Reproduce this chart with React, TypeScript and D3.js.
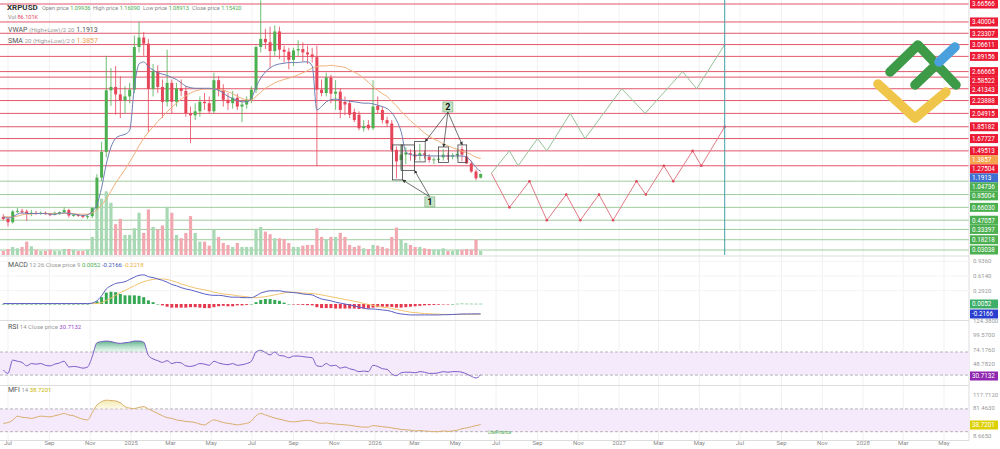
import React from 'react';
import * as d3 from 'd3';

// weekly XRPUSD candles, first week starts 2024-06-24
const firstWeek = '2024-06-24';
const opens = [0.52, 0.49, 0.44, 0.60, 0.61, 0.60, 0.57, 0.58, 0.57, 0.58, 0.56, 0.55, 0.58, 0.59, 0.62, 0.54, 0.55, 0.54, 0.52, 0.53,
  0.65, 1.10, 1.48, 2.39, 2.44, 2.33, 2.24, 2.30, 2.40, 3.03, 3.17, 3.08, 2.41, 2.67, 2.44, 2.22, 2.50, 2.22, 2.42, 2.38,
  2.05, 2.02, 2.08, 2.22, 2.20, 2.08, 2.54, 2.39, 2.25, 2.20, 2.28, 2.15, 2.18, 2.25, 2.40, 3.03, 3.15, 3.10, 2.97, 3.26,
  2.99, 2.96, 2.84, 2.98, 3.00, 2.95, 2.92, 2.88, 2.40, 2.35, 2.58, 2.34, 2.37, 2.22, 2.20, 2.07, 2.03, 1.83, 1.88, 1.83,
  2.16, 2.10, 1.95, 1.90, 1.51, 1.36, 1.44, 1.46, 1.44, 1.42, 1.46, 1.41, 1.36, 1.37, 1.40, 1.43, 1.41, 1.43, 1.52, 1.41,
  1.31, 1.19, 1.09936];
const highs = [0.56, 0.52, 0.62, 0.65, 0.64, 0.63, 0.62, 0.61, 0.60, 0.60, 0.58, 0.60, 0.60, 0.66, 0.64, 0.56, 0.56, 0.55, 0.55, 0.66,
  1.15, 1.63, 2.90, 2.72, 2.75, 2.60, 2.45, 2.50, 3.20, 3.40, 3.25, 3.15, 2.78, 2.76, 2.55, 2.99, 2.55, 2.50, 2.55, 2.45,
  2.15, 2.20, 2.30, 2.35, 2.30, 2.65, 2.60, 2.48, 2.35, 2.38, 2.34, 2.25, 2.30, 2.45, 3.05, 3.72, 3.30, 3.33, 3.35, 3.33,
  3.05, 3.02, 3.02, 3.13, 3.10, 3.05, 3.02, 3.05, 2.55, 2.65, 2.62, 2.54, 2.42, 2.30, 2.25, 2.12, 2.08, 1.95, 1.95, 2.54,
  2.30, 2.15, 2.00, 1.95, 1.56, 1.58, 1.55, 1.52, 1.50, 1.60, 1.50, 1.45, 1.40, 1.42, 1.52, 1.47, 1.46, 1.50, 1.56, 1.45,
  1.35, 1.22, 1.1609];
const lows = [0.47, 0.38, 0.42, 0.57, 0.56, 0.46, 0.53, 0.55, 0.55, 0.55, 0.53, 0.54, 0.55, 0.58, 0.51, 0.52, 0.52, 0.50, 0.49, 0.50,
  0.62, 1.05, 1.40, 2.16, 2.03, 1.98, 2.05, 2.20, 2.35, 2.95, 2.90, 1.77, 2.30, 2.35, 1.98, 2.15, 2.05, 2.15, 2.30, 2.00,
  1.61, 1.95, 2.00, 2.10, 2.05, 2.05, 2.30, 2.15, 2.10, 2.12, 2.10, 1.92, 2.12, 2.20, 2.35, 2.95, 3.00, 2.72, 2.90, 2.85,
  2.80, 2.70, 2.75, 2.90, 2.82, 2.78, 2.80, 1.27, 2.30, 2.30, 2.20, 2.10, 1.98, 2.02, 1.98, 1.92, 1.80, 1.78, 1.80, 1.80,
  2.05, 1.90, 1.85, 1.48, 1.09, 1.22, 1.30, 1.35, 1.36, 1.35, 1.38, 1.32, 1.30, 1.33, 1.35, 1.36, 1.37, 1.38, 1.34, 1.30,
  1.17, 1.06, 1.08913];
const closes = [0.49, 0.44, 0.60, 0.61, 0.60, 0.57, 0.58, 0.57, 0.58, 0.56, 0.55, 0.58, 0.59, 0.62, 0.54, 0.55, 0.54, 0.52, 0.53, 0.65,
  1.10, 1.48, 2.39, 2.44, 2.33, 2.24, 2.30, 2.40, 3.03, 3.17, 3.08, 2.41, 2.67, 2.44, 2.22, 2.50, 2.22, 2.42, 2.38, 2.05,
  2.02, 2.08, 2.22, 2.20, 2.08, 2.54, 2.39, 2.25, 2.20, 2.28, 2.15, 2.18, 2.25, 2.40, 3.03, 3.15, 3.10, 2.97, 3.26, 2.99,
  2.96, 2.84, 2.98, 3.00, 2.95, 2.92, 2.88, 2.40, 2.35, 2.58, 2.34, 2.37, 2.10, 2.18, 2.03, 1.95, 1.83, 1.86, 1.83, 2.15,
  2.10, 1.95, 1.90, 1.51, 1.34, 1.44, 1.47, 1.45, 1.41, 1.46, 1.44, 1.36, 1.37, 1.38, 1.44, 1.41, 1.43, 1.45, 1.44, 1.31,
  1.19, 1.09, 1.1542];
const volumes = [6, 9, 12, 10, 12, 20, 13, 8, 6, 6, 8, 6, 6, 9, 9, 8, 6, 6, 8, 27,
  82, 84, 95, 78, 46, 54, 30, 30, 40, 63, 33, 68, 42, 38, 44, 72, 63, 30, 25, 33,
  58, 33, 20, 20, 14, 38, 27, 18, 15, 12, 18, 12, 12, 12, 39, 42, 35, 31, 25, 25,
  24, 18, 12, 12, 14, 15, 15, 40, 27, 23, 27, 27, 33, 27, 15, 12, 14, 10, 9, 15,
  14, 12, 10, 27, 41, 23, 18, 15, 12, 12, 10, 9, 8, 8, 10, 6, 6, 8, 8, 9,
  8, 23, 6];
const vwap = [0.52, 0.50, 0.52, 0.56, 0.58, 0.57, 0.57, 0.57, 0.57, 0.57, 0.56, 0.56, 0.57, 0.58, 0.57, 0.56, 0.55, 0.54, 0.55, 0.60,
  0.70, 0.95, 1.30, 1.55, 1.68, 1.72, 1.74, 1.80, 2.44, 2.78, 2.81, 2.74, 2.69, 2.65, 2.63, 2.61, 2.58, 2.55, 2.50, 2.45,
  2.43, 2.42, 2.42, 2.42, 2.42, 2.41, 2.39, 2.35, 2.30, 2.27, 2.24, 2.22, 2.22, 2.27, 2.44, 2.57, 2.66, 2.72, 2.76, 2.78,
  2.79, 2.80, 2.80, 2.80, 2.81, 2.81, 2.75, 2.10, 2.15, 2.22, 2.25, 2.26, 2.25, 2.24, 2.23, 2.22, 2.21, 2.20, 2.20, 2.19,
  2.17, 2.15, 2.12, 2.06, 1.95, 1.78, 1.48, 1.44, 1.43, 1.43, 1.43, 1.42, 1.42, 1.42, 1.42, 1.42, 1.42, 1.42, 1.42, 1.40,
  1.34, 1.25, 1.1913];
const sma = [0.53, 0.52, 0.52, 0.53, 0.55, 0.56, 0.56, 0.57, 0.57, 0.57, 0.57, 0.57, 0.57, 0.57, 0.57, 0.57, 0.56, 0.56, 0.56, 0.58,
  0.62, 0.70, 0.78, 0.90, 1.02, 1.12, 1.22, 1.33, 1.45, 1.57, 1.68, 1.77, 1.85, 1.93, 2.00, 2.07, 2.14, 2.20, 2.26, 2.31,
  2.35, 2.38, 2.40, 2.41, 2.41, 2.41, 2.40, 2.39, 2.37, 2.34, 2.30, 2.27, 2.25, 2.25, 2.30, 2.36, 2.42, 2.46, 2.50, 2.53,
  2.55, 2.57, 2.59, 2.62, 2.65, 2.68, 2.72, 2.74, 2.75, 2.75, 2.76, 2.75, 2.74, 2.73, 2.69, 2.66, 2.62, 2.57, 2.51, 2.44,
  2.39, 2.34, 2.30, 2.23, 2.16, 2.08, 2.01, 1.94, 1.88, 1.82, 1.76, 1.71, 1.67, 1.64, 1.60, 1.57, 1.54, 1.52, 1.49, 1.47,
  1.44, 1.40, 1.3857];
const macd = [0.01, 0.01, 0.01, 0.01, 0.01, 0.01, 0.01, 0.01, 0.01, 0.01, 0.01, 0.01, 0.01, 0.01, 0.01, 0.01, 0.01, 0.01, 0.01, 0.02,
  0.07, 0.18, 0.33, 0.40, 0.45, 0.47, 0.49, 0.54, 0.59, 0.63, 0.64, 0.60, 0.58, 0.55, 0.52, 0.48, 0.43, 0.40, 0.36, 0.33,
  0.31, 0.28, 0.25, 0.22, 0.20, 0.19, 0.19, 0.18, 0.16, 0.15, 0.15, 0.14, 0.14, 0.14, 0.18, 0.24, 0.27, 0.29, 0.29, 0.29,
  0.27, 0.26, 0.25, 0.24, 0.22, 0.21, 0.20, 0.15, 0.11, 0.09, 0.07, 0.04, 0.02, 0.00, -0.02, -0.04, -0.07, -0.09, -0.11, -0.11,
  -0.12, -0.13, -0.14, -0.165, -0.20, -0.22, -0.23, -0.24, -0.24, -0.24, -0.24, -0.24, -0.24, -0.24, -0.235, -0.235, -0.23, -0.225, -0.22, -0.22,
  -0.219, -0.218, -0.2166];
const signal = [0.01, 0.01, 0.01, 0.01, 0.01, 0.01, 0.01, 0.01, 0.01, 0.01, 0.01, 0.01, 0.01, 0.01, 0.01, 0.01, 0.01, 0.01, 0.01, 0.01,
  0.01, 0.03, 0.08, 0.13, 0.19, 0.25, 0.30, 0.35, 0.40, 0.45, 0.49, 0.52, 0.54, 0.55, 0.55, 0.54, 0.51, 0.48, 0.44, 0.41,
  0.38, 0.35, 0.33, 0.31, 0.29, 0.26, 0.24, 0.22, 0.21, 0.20, 0.18, 0.17, 0.16, 0.14, 0.14, 0.15, 0.16, 0.18, 0.20, 0.22,
  0.24, 0.26, 0.26, 0.255, 0.24, 0.235, 0.23, 0.22, 0.20, 0.18, 0.16, 0.14, 0.12, 0.10, 0.08, 0.06, 0.04, 0.01, -0.01, -0.03,
  -0.05, -0.07, -0.08, -0.10, -0.12, -0.14, -0.16, -0.18, -0.19, -0.20, -0.21, -0.215, -0.22, -0.225, -0.228, -0.23, -0.23, -0.23, -0.228, -0.226,
  -0.225, -0.223, -0.2218];
const rsi = [39, 33, 56, 54, 52, 46, 50, 49, 50, 47, 46, 49, 51, 54, 44, 45, 44, 42, 44, 62,
  86, 88, 89, 88, 86, 85, 86, 87, 89, 89, 87, 64, 58, 55, 52, 55, 50, 52, 51, 46,
  45, 47, 50, 49, 47, 54, 51, 49, 48, 50, 47, 48, 50, 54, 70, 73, 69, 65, 70, 64,
  63, 60, 63, 63, 62, 61, 60, 46, 45, 50, 46, 47, 42, 44, 41, 39, 36, 37, 36, 47,
  45, 41, 40, 32, 29, 34, 35, 35, 34, 36, 35, 33, 33, 34, 36, 35, 36, 36, 35, 32,
  28, 25, 30.7132];
const mfi = [42, 44, 50, 61, 58, 57, 55, 58, 61, 60, 59, 62, 65, 68, 64, 62, 57, 53, 51, 70,
  90, 99, 103, 102, 101, 96, 86, 82, 81, 84, 86, 80, 74, 68, 62, 57, 55, 51, 49, 47,
  46, 44, 40, 38, 45, 51, 48, 44, 42, 40, 38, 40, 42, 48, 62, 68, 64, 60, 56, 53,
  50, 47, 46, 47, 49, 50, 48, 44, 42, 43, 41, 40, 39, 38, 37, 35, 33, 32, 32, 36,
  35, 33, 32, 30, 28, 26, 25, 24, 22, 23, 22, 21, 20, 20, 22, 21, 22, 24, 28, 30,
  33, 36, 38.7201];

// support / resistance levels drawn across the chart
const levels = [3.66566, 3.40004, 3.23307, 3.06611, 2.89156, 2.66665, 2.58522, 2.41343, 2.23888, 2.04915, 1.85182,
  1.67727, 1.49513, 1.27504, 1.04736, 0.85004, 0.6603, 0.47057, 0.33397, 0.18218, 0.03038];

// forecast scenarios
const bullDates = ['2026-06-24', '2026-07-21', '2026-08-03', '2026-09-01', '2026-09-15', '2026-10-20', '2026-11-11',
  '2027-01-05', '2027-02-09', '2027-04-06', '2027-04-27', '2027-06-08'];
const bullPrices = [1.165, 1.49513, 1.27504, 1.67727, 1.49513, 2.04915, 1.67727, 2.41343, 2.04915, 2.66665, 2.41343, 3.06611];
const bearDates = ['2026-06-24', '2026-07-21', '2026-08-20', '2026-09-15', '2026-10-14', '2026-11-04', '2026-12-02',
  '2026-12-23', '2027-01-27', '2027-02-10', '2027-03-09', '2027-03-23', '2027-04-21', '2027-05-04', '2027-06-08'];
const bearPrices = [1.165, 0.6603, 1.04736, 0.47057, 0.85004, 0.47057, 0.85004, 0.47057, 1.04736, 0.85004, 1.27504,
  1.04736, 1.49513, 1.27504, 1.85182];
const forecastEnd = '2027-06-08';

// pattern boxes: [start, end, high, low]
const patternBoxes = [
  ['2026-01-27', '2026-02-11', 1.583, 1.066],
  ['2026-02-09', '2026-03-01', 1.583, 1.207],
  ['2026-03-01', '2026-03-17', 1.632, 1.332],
  ['2026-04-06', '2026-04-21', 1.553, 1.325],
  ['2026-05-05', '2026-05-18', 1.583, 1.325],
];
const patternLabels = [
  { text: '1', date: '2026-03-24', price: 0.741, boxes: [0, 1], side: 'bottom' },
  { text: '2', date: '2026-04-20', price: 2.144, boxes: [2, 3, 4], side: 'top' },
];

const macdTicks = [0.936, 0.614, 0.292];
const rsiTicks = [124.38, 99.57, 74.176, 48.782];
const mfiTicks = [117.712, 81.463, 8.665];

const FONT = 'Roboto, "Noto Sans", sans-serif';
const RIGHT = 969;
const GREEN = '#4caf50';
const RED = '#e6455a';

const parse = d3.utcParse('%Y-%m-%d');

export default function App() {
  const start = parse(firstWeek) as Date;
  const dates = opens.map((_, i) => d3.utcDay.offset(start, 7 * i));

  const x = d3.scaleUtc().domain([parse('2024-07-01') as Date, parse('2028-05-01') as Date]).range([8, 944]);
  const y = d3.scaleLinear().domain([0.03038, 3.66566]).range([250, 4]);
  const yVol = d3.scaleLinear().domain([0, 100]).range([255, 188]);
  const yMacd = d3.scaleLinear().domain([0, 0.936]).range([304, 261.4]);
  const yRsi = d3.scaleLinear().domain([30, 70]).range([375.1, 352]);
  const yMfi = d3.scaleLinear().domain([20, 80]).range([431.7, 408.9]);

  const ticks = x.ticks(d3.utcMonth.every(2) as d3.TimeInterval);
  const fmtTick = (d: Date) => (d.getUTCMonth() === 0 ? d3.utcFormat('%Y')(d) : d3.utcFormat('%b')(d));

  const lineOf = (vals: number[], sy: (v: number) => number) =>
    d3.line<number>().x((_, i) => x(dates[i])).y((v) => sy(v)).curve(d3.curveMonotoneX)(vals) || '';

  // right-hand price labels, pushed apart so they do not overlap
  const priceLabels = [
    ...levels.map((v) => ({ v, text: v.toFixed(5), fill: v > 1.2 ? '#ec1a35' : '#4caf50' })),
    { v: sma[sma.length - 1], text: '1.3857', fill: '#f5a34f' },
    { v: vwap[vwap.length - 1], text: '1.1913', fill: '#3f6fd1' },
  ].map((d) => ({ ...d, y: y(d.v) })).sort((a, b) => a.y - b.y);
  for (let i = 1; i < priceLabels.length; i++) {
    if (priceLabels[i].y < priceLabels[i - 1].y + 9) priceLabels[i].y = priceLabels[i - 1].y + 9;
  }

  const bull = bullDates.map((d, i) => [x(parse(d) as Date), y(bullPrices[i])] as [number, number]);
  const bear = bearDates.map((d, i) => [x(parse(d) as Date), y(bearPrices[i])] as [number, number]);
  const boxes = patternBoxes.map(([a, b, hi, lo]) => ({
    x0: x(parse(a as string) as Date), x1: x(parse(b as string) as Date), y0: y(hi as number), y1: y(lo as number),
  }));

  const rsiOver = d3.area<number>().x((_, i) => x(dates[i])).y0(yRsi(70)).y1((v) => yRsi(Math.max(v, 70))).curve(d3.curveMonotoneX)(rsi) || '';
  const mfiOver = d3.area<number>().x((_, i) => x(dates[i])).y0(yMfi(80)).y1((v) => yMfi(Math.max(v, 80))).curve(d3.curveMonotoneX)(mfi) || '';

  const axisLabel = (v: number, sy: (n: number) => number, key: string) => (
    <text key={key} x={973} y={sy(v) + 2} fontSize={6} fill="#999">{v.toFixed(4)}</text>
  );
  const tag = (yy: number, text: string, fill: string, color = '#fff', key?: string) => (
    <g key={key || text}>
      <rect x={970} y={yy - 4.5} width={28} height={9} fill={fill} />
      <text x={972} y={yy + 2.3} fontSize={6.3} fill={color}>{text}</text>
    </g>
  );

  return (
    <svg width={1000} height={449} style={{ position: 'absolute', left: 0, top: 0, fontFamily: FONT }}>
      <defs>
        <marker id="arr" viewBox="0 0 6 6" refX="5.5" refY="3" markerWidth="5" markerHeight="5" orient="auto">
          <path d="M0,0 L6,3 L0,6 z" fill="#333" />
        </marker>
        <linearGradient id="rsiG" x1="0" x2="0" y1="0" y2="1">
          <stop offset="0" stopColor="#2e9d6a" stopOpacity="0.8" />
          <stop offset="1" stopColor="#b9e6cf" stopOpacity="0.3" />
        </linearGradient>
        <linearGradient id="mfiG" x1="0" x2="0" y1="0" y2="1">
          <stop offset="0" stopColor="#f2e6a0" stopOpacity="0.9" />
          <stop offset="1" stopColor="#f7f0c8" stopOpacity="0.4" />
        </linearGradient>
      </defs>
      <rect width={1000} height={449} fill="#fff" />

      {/* vertical grid */}
      {ticks.map((t) => (
        <line key={'g' + t.getTime()} x1={x(t)} x2={x(t)} y1={0} y2={440} stroke="#f1f1f1" />
      ))}

      {/* levels */}
      {levels.map((v) => (
        <line key={'l' + v} x1={0} x2={RIGHT} y1={y(v)} y2={y(v)} stroke={v > 1.2 ? '#e2576c' : '#9fcd9f'} strokeWidth={1} />
      ))}

      {/* volume */}
      {volumes.map((v, i) => (
        <rect key={'v' + i} x={x(dates[i]) - 1.6} y={yVol(v)} width={3.2} height={yVol(0) - yVol(v)}
          fill={closes[i] >= opens[i] ? '#a8d8b4' : '#f2a8b1'} />
      ))}

      {/* candles */}
      {opens.map((o, i) => {
        const c = closes[i];
        const col = c >= o ? GREEN : RED;
        const cx = x(dates[i]);
        return (
          <g key={'c' + i}>
            <line x1={cx} x2={cx} y1={y(highs[i])} y2={y(lows[i])} stroke={col} strokeWidth={0.8} />
            <rect x={cx - 1.5} y={y(Math.max(o, c))} width={3} height={Math.max(1, Math.abs(y(o) - y(c)))} fill={col} />
          </g>
        );
      })}

      <path d={lineOf(sma, y)} fill="none" stroke="#f0b07c" strokeWidth={1} />
      <path d={lineOf(vwap, y)} fill="none" stroke="#6f7fb2" strokeWidth={1} />

      {/* forecasts */}
      <path d={d3.line()(bull) || ''} fill="none" stroke="#98c29a" strokeWidth={1} />
      <path d={d3.line()(bear) || ''} fill="none" stroke="#e07a86" strokeWidth={1} />
      {bear.slice(1).map(([px, py], i) => <circle key={'bd' + i} cx={px} cy={py} r={1.3} fill="#e0455a" />)}
      <line x1={x(parse(forecastEnd) as Date)} x2={x(parse(forecastEnd) as Date)} y1={0} y2={255} stroke="#3f9fa6" strokeWidth={1} />

      {/* pattern boxes and labels */}
      {boxes.map((b, i) => (
        <rect key={'pb' + i} x={b.x0} y={b.y0} width={b.x1 - b.x0} height={b.y1 - b.y0} fill="none" stroke="#444" strokeWidth={0.8} />
      ))}
      {patternLabels.map((p) => {
        const lx = x(parse(p.date) as Date);
        const ly = y(p.price);
        return (
          <g key={'pl' + p.text}>
            {p.boxes.map((bi) => {
              const b = boxes[bi];
              const tx = p.side === 'top' ? (bi === 2 ? b.x1 : (b.x0 + b.x1) / 2) : b.x1;
              const ty = p.side === 'top' ? b.y0 : b.y1;
              const sy = p.side === 'top' ? ly + 5 : ly - 5;
              return <line key={bi} x1={lx} y1={sy} x2={tx} y2={ty} stroke="#333" strokeWidth={0.7} markerEnd="url(#arr)" />;
            })}
            <rect x={lx - 5} y={ly - 5} width={10} height={10} fill="#c5e3c5" stroke="#7aa57a" strokeWidth={0.6} />
            <text x={lx} y={ly + 3.3} fontSize={9} fontWeight="bold" textAnchor="middle" fill="#111">{p.text}</text>
          </g>
        );
      })}

      {/* logo */}
      <g strokeLinecap="round" strokeLinejoin="round" fill="none" strokeWidth={9.5}>
        <path d="M878,84 L915,118 L946,92" stroke="#f0c64a" />
        <path d="M890,72 L918,45 L956,85" stroke="#3d9a47" />
        <path d="M915,85 L938,63" stroke="#3d9a47" />
        <path d="M939,62 L955,47" stroke="#4aa0dd" />
      </g>

      {/* legend */}
      <g fontSize={5.6} fill="#888">
        <text x={7} y={10} fontSize={8} fontWeight="bold" fill="#333">XRPUSD</text>
        <text x={42} y={9.5}>Open price <tspan fill="#4caf50">1.09936</tspan></text>
        <text x={93} y={9.5}>High price <tspan fill="#4caf50">1.16090</tspan></text>
        <text x={143} y={9.5}>Low price <tspan fill="#4caf50">1.08913</tspan></text>
        <text x={192} y={9.5}>Close price <tspan fill="#4caf50">1.15420</tspan></text>
        <text x={8} y={18.5}>Vol <tspan fill="#e6455a">86.101K</tspan></text>
        <text x={8} y={31.5} fontSize={7}><tspan fill="#555">VWAP</tspan> <tspan fontSize={6} fill="#999">(High+Low)/2 20</tspan> <tspan fill="#555">1.1913</tspan></text>
        <text x={8} y={43} fontSize={7}><tspan fill="#555">SMA</tspan> <tspan fontSize={6} fill="#999">20 (High+Low)/2 0</tspan> <tspan fill="#f0a050">1.3857</tspan></text>
      </g>

      {/* price labels */}
      {priceLabels.map((d) => tag(d.y, d.text, d.fill, '#fff', 'p' + d.text))}

      {/* panel separators */}
      {[256, 320.5, 385.5, 440.5].map((v) => <line key={'s' + v} x1={0} x2={RIGHT} y1={v} y2={v} stroke="#ddd" />)}
      <line x1={RIGHT} x2={RIGHT} y1={0} y2={440.5} stroke="#ddd" />

      {/* MACD */}
      {macdTicks.map((v) => <line key={'mg' + v} x1={0} x2={RIGHT} y1={yMacd(v)} y2={yMacd(v)} stroke="#f3f3f3" />)}
      {macd.map((m, i) => {
        const h = m - signal[i];
        return <rect key={'h' + i} x={x(dates[i]) - 1.5} y={Math.min(yMacd(0), yMacd(h))} width={3}
          height={Math.max(0.5, Math.abs(yMacd(h) - yMacd(0)))} fill={h >= 0 ? '#34a853' : '#e53950'} />;
      })}
      <path d={lineOf(signal, yMacd)} fill="none" stroke="#f3c46d" strokeWidth={1} />
      <path d={lineOf(macd, yMacd)} fill="none" stroke="#5a5fc4" strokeWidth={1} />
      <text x={8} y={267} fontSize={6} fill="#999"><tspan fontSize={7} fill="#555">MACD</tspan> 12 26 Close price 9 <tspan fill="#4caf50">0.0052</tspan> <tspan fill="#3f51b5">-0.2166</tspan> <tspan fill="#f0b040">-0.2218</tspan></text>
      {macdTicks.map((v) => axisLabel(v, yMacd, 'ma' + v))}
      {tag(304, '0.0052', '#3dae6a')}
      {tag(314, '-0.2166', '#2a3fd0')}

      {/* RSI */}
      <rect x={0} y={yRsi(70)} width={RIGHT} height={yRsi(30) - yRsi(70)} fill="#f5eafc" />
      {[70, 30].map((v) => <line key={'rd' + v} x1={0} x2={RIGHT} y1={yRsi(v)} y2={yRsi(v)} stroke="#999" strokeDasharray="3,2" strokeWidth={0.7} />)}
      <path d={rsiOver} fill="url(#rsiG)" />
      <path d={lineOf(rsi, yRsi)} fill="none" stroke="#7d5bc6" strokeWidth={1} />
      <text x={8} y={329} fontSize={6} fill="#999"><tspan fontSize={7} fill="#555">RSI</tspan> 14 Close price <tspan fill="#9c4dcc">30.7132</tspan></text>
      {rsiTicks.map((v) => axisLabel(v, yRsi, 'ra' + v))}
      {tag(376, '30.7132', '#9027b0')}

      {/* MFI */}
      <rect x={0} y={yMfi(80)} width={RIGHT} height={yMfi(20) - yMfi(80)} fill="#f5eafc" />
      {[80, 20].map((v) => <line key={'md' + v} x1={0} x2={RIGHT} y1={yMfi(v)} y2={yMfi(v)} stroke="#999" strokeDasharray="3,2" strokeWidth={0.7} />)}
      <path d={mfiOver} fill="url(#mfiG)" />
      <path d={lineOf(mfi, yMfi)} fill="none" stroke="#d9ad6c" strokeWidth={1} />
      <text x={8} y={392} fontSize={6} fill="#999"><tspan fontSize={7} fill="#555">MFI</tspan> 14 <tspan fill="#c9b800">38.7201</tspan></text>
      {mfiTicks.map((v) => axisLabel(v, yMfi, 'fa' + v))}
      {tag(425, '38.7201', '#ddd000')}
      <text x={488} y={434} fontSize={4.5} fill="#4caf50">LiteFinance</text>

      {/* x axis */}
      {ticks.map((t) => (
        <text key={'t' + t.getTime()} x={x(t)} y={445} fontSize={6} fill="#888" textAnchor="middle">{fmtTick(t)}</text>
      ))}
    </svg>
  );
}
